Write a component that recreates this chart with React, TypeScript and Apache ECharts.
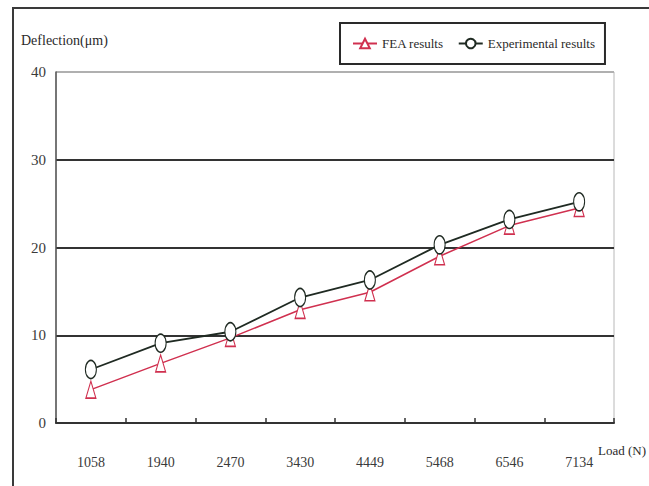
import React, { useEffect, useRef } from "react";
import * as echarts from "echarts";

const categories = ["1058", "1940", "2470", "3430", "4449", "5468", "6546", "7134"];
const feaResults = [3.8, 6.8, 9.7, 12.9, 14.9, 19.0, 22.5, 24.5];
const experimentalResults = [6.1, 9.1, 10.4, 14.3, 16.3, 20.3, 23.2, 25.2];
const seriesNames = ["FEA results", "Experimental results"];
const yAxisTitle = "Deflection(μm)";
const xAxisTitle = "Load (N)";

const FONT = "'Liberation Serif', 'Times New Roman', serif";

export default function App() {
  const ref = useRef<HTMLDivElement>(null);
  useEffect(() => {
    document.body.style.margin = "0";
    const chart = echarts.init(ref.current!, null, { renderer: "svg" });
    chart.setOption({
      animation: false,
      backgroundColor: "#ffffff",
      textStyle: { fontFamily: FONT },
      graphic: [
        {
          type: "rect",
          shape: { x: 13, y: 8, width: 700, height: 600 },
          style: { fill: "none", stroke: "#3a3a3a", lineWidth: 2 },
          z: 0,
        },
        {
          type: "text",
          left: 21,
          top: 33,
          style: { text: yAxisTitle, fontFamily: FONT, fontSize: 14, fill: "#2a2a2a" },
        },
        {
          type: "text",
          left: 598,
          top: 444,
          style: { text: xAxisTitle, fontFamily: FONT, fontSize: 13, fill: "#2a2a2a" },
        },
      ],
      legend: {
        left: 340,
        top: 23,
        data: seriesNames,
        backgroundColor: "#ffffff",
        borderColor: "#2a2a2a",
        borderWidth: 2,
        borderRadius: 0,
        padding: [14, 10, 14, 12],
        itemWidth: 24,
        itemHeight: 12,
        itemGap: 14,
        textStyle: { fontFamily: FONT, fontSize: 13, color: "#2a2a2a" },
      },
      grid: {
        left: 56,
        top: 72,
        right: 35,
        bottom: 63,
        show: true,
        borderColor: "#b8b8b8",
        borderWidth: 1,
        backgroundColor: "transparent",
      },
      xAxis: {
        type: "category",
        data: categories,
        boundaryGap: true,
        axisLine: { lineStyle: { color: "#333333", width: 2 } },
        axisTick: { show: true, inside: true, length: 5, lineStyle: { color: "#333333", width: 1.5 } },
        axisLabel: { margin: 32, fontFamily: FONT, fontSize: 14, color: "#3a3a3a" },
        splitLine: { show: false },
      },
      yAxis: {
        type: "value",
        min: 0,
        max: 40,
        interval: 10,
        axisLine: { show: true, lineStyle: { color: "#555555", width: 1.5 } },
        axisTick: { show: false },
        axisLabel: { margin: 10, fontFamily: FONT, fontSize: 15, color: "#3a3a3a" },
        splitLine: {
          show: true,
          lineStyle: { color: ["#333333", "#333333", "#333333", "#333333", "#b0b0b0"], width: 2 },
        },
      },
      series: [
        {
          name: seriesNames[0],
          type: "line",
          data: feaResults,
          symbol: "triangle",
          symbolSize: [10, 17],
          lineStyle: { color: "#d0304f", width: 1.5 },
          itemStyle: { color: "#ffffff", borderColor: "#d0304f", borderWidth: 1.3 },
          color: "#d0304f",
          z: 3,
        },
        {
          name: seriesNames[1],
          type: "line",
          data: experimentalResults,
          symbol: "circle",
          symbolSize: [11, 18],
          lineStyle: { color: "#1f2a22", width: 1.8 },
          itemStyle: { color: "#ffffff", borderColor: "#1f2a22", borderWidth: 1.3 },
          color: "#1f2a22",
          z: 4,
        },
      ],
    });
    return () => chart.dispose();
  }, []);
  return <div ref={ref} style={{ width: 649, height: 486 }} />;
}
